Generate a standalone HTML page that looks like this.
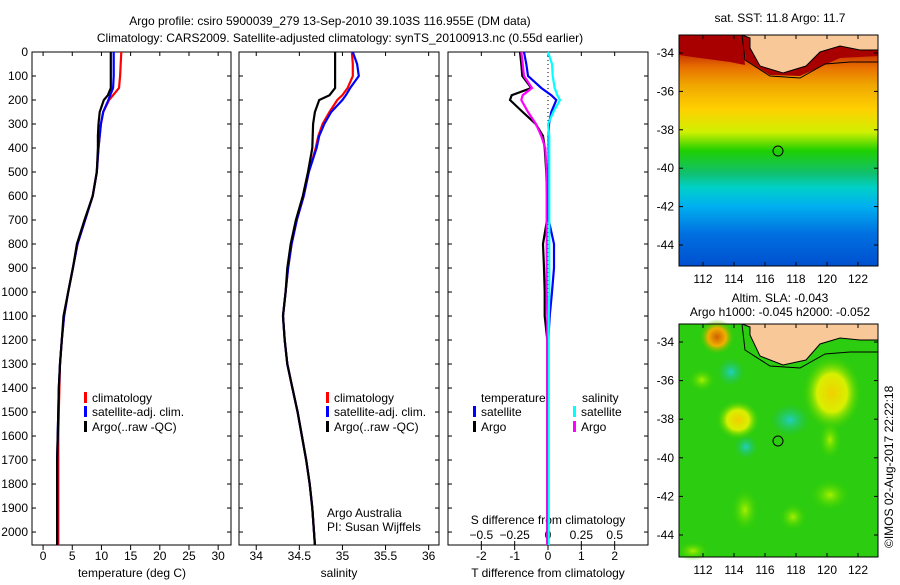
<!DOCTYPE html>
<html><head><meta charset="utf-8"><style>
body{margin:0;background:#fff;width:900px;height:580px;overflow:hidden}
svg text{font-family:"Liberation Sans",sans-serif;font-size:12px;fill:#000}
</style></head><body>
<svg id="c" width="900" height="580" xmlns="http://www.w3.org/2000/svg">
<defs>
<linearGradient id="sst" x1="0" y1="0" x2="0" y2="1">
<stop offset="0" stop-color="#a80000"/><stop offset="0.08" stop-color="#c83000"/><stop offset="0.14" stop-color="#e87000"/>
<stop offset="0.22" stop-color="#f0a800"/><stop offset="0.32" stop-color="#ffd000"/>
<stop offset="0.42" stop-color="#d0f000"/><stop offset="0.5" stop-color="#20d000"/>
<stop offset="0.6" stop-color="#10c070"/><stop offset="0.66" stop-color="#00d0c8"/>
<stop offset="0.74" stop-color="#00b0f0"/><stop offset="0.86" stop-color="#0070e0"/>
<stop offset="1" stop-color="#0050d0"/></linearGradient>
<radialGradient id="bOr"><stop offset="0" stop-color="#d06000"/><stop offset="0.5" stop-color="#f0b000"/><stop offset="1" stop-color="#30d000" stop-opacity="0"/></radialGradient>
<radialGradient id="bYe"><stop offset="0" stop-color="#f0d000"/><stop offset="0.5" stop-color="#d8f000"/><stop offset="1" stop-color="#30d000" stop-opacity="0"/></radialGradient>
<radialGradient id="bCy"><stop offset="0" stop-color="#20d0c0"/><stop offset="1" stop-color="#20c060" stop-opacity="0"/></radialGradient>
<radialGradient id="bLg"><stop offset="0" stop-color="#a8f000"/><stop offset="1" stop-color="#30d000" stop-opacity="0"/></radialGradient>
</defs>
<text x="330" y="25" text-anchor="middle">Argo profile: csiro 5900039_279 13-Sep-2010 39.103S 116.955E (DM data)</text>
<text x="340" y="42" text-anchor="middle">Climatology: CARS2009. Satellite-adjusted climatology: synTS_20100913.nc (0.55d earlier)</text>
<g>
<rect x="679" y="35" width="199" height="231" fill="url(#sst)"/>
<polygon points="679,35 742,35 746,60 770,75 800,76 840,58 878,56 878,35" fill="#a80000"/>
<polygon points="679,35 742,35 745,65 730,62 700,58 679,55" fill="#a80000"/>
<polygon points="742,35 878,35 878,50 860,50 840,46 820,52 806,66 783,73 760,66 750,48 750,38" fill="#f9c899" stroke="#000" stroke-width="1"/>
<polyline points="742,35 745,60 770,76 800,78 825,64 850,62 878,62" fill="none" stroke="#000" stroke-width="1"/>
<circle cx="778" cy="151" r="5" fill="none" stroke="#000"/>
<rect x="679" y="35" width="199" height="231" fill="none" stroke="#000"/>
</g>
<text x="780" y="22" text-anchor="middle">sat. SST: 11.8 Argo: 11.7</text>
<g>
<rect x="679" y="324" width="199" height="233" fill="#2ccc10"/>
<ellipse cx="717" cy="337" rx="18" ry="18" fill="url(#bOr)"/>
<ellipse cx="832" cy="393" rx="30" ry="38" fill="url(#bYe)"/>
<ellipse cx="738" cy="420" rx="22" ry="20" fill="url(#bYe)"/>
<ellipse cx="731" cy="372" rx="14" ry="14" fill="url(#bCy)"/>
<ellipse cx="746" cy="447" rx="12" ry="12" fill="url(#bCy)"/>
<ellipse cx="790" cy="420" rx="20" ry="16" fill="url(#bCy)"/>
<ellipse cx="830" cy="440" rx="12" ry="20" fill="url(#bLg)"/>
<ellipse cx="830" cy="495" rx="20" ry="16" fill="url(#bLg)"/>
<ellipse cx="745" cy="510" rx="14" ry="22" fill="url(#bLg)"/>
<ellipse cx="793" cy="517" rx="14" ry="14" fill="url(#bLg)"/>
<ellipse cx="693" cy="551" rx="16" ry="10" fill="url(#bLg)"/>
<ellipse cx="702" cy="380" rx="14" ry="12" fill="url(#bLg)"/>
<polygon points="742,324 878,324 878,340 860,340 840,338 820,344 806,360 783,365 760,356 750,335 750,327" fill="#f9c899" stroke="#000" stroke-width="1"/>
<polyline points="742,324 745,350 770,366 800,368 825,354 850,352 878,352" fill="none" stroke="#000" stroke-width="1"/>
<circle cx="778" cy="441" r="5" fill="none" stroke="#000"/>
<rect x="679" y="324" width="199" height="233" fill="none" stroke="#000"/>
</g>
<text x="780" y="302" text-anchor="middle">Altim. SLA: -0.043</text>
<text x="780" y="316" text-anchor="middle">Argo h1000: -0.045 h2000: -0.052</text>
<text transform="translate(893,548) rotate(-90)">©IMOS 02-Aug-2017 22:22:18</text>
</svg>
<script>
const depths=[0,50,100,150,180,200,250,300,350,400,500,600,700,800,900,1000,1100,1200,1300,1400,1500,1600,1700,1800,1900,2000,2054];
const tempClim=[13.4,13.3,13.2,13.0,12.0,11.3,10.3,9.9,9.7,9.5,9.2,8.5,7.2,5.9,5.1,4.3,3.6,3.2,2.9,2.8,2.7,2.6,2.6,2.6,2.6,2.6,2.6];
const tempSat=[12.1,12.1,12.1,12.0,11.5,11.2,10.3,9.9,9.7,9.5,9.2,8.5,7.2,5.9,5.1,4.3,3.6,3.2,2.9,2.7,2.6,2.5,2.4,2.4,2.4,2.4,2.4];
const tempArgo=[11.6,11.6,11.6,11.6,11.1,10.4,9.7,9.5,9.4,9.4,9.2,8.5,7.1,5.8,5.1,4.3,3.5,3.2,2.9,2.7,2.6,2.5,2.4,2.4,2.4,2.4,2.4];
const salClim=[35.11,35.12,35.12,35.06,35.0,34.94,34.85,34.77,34.72,34.69,34.61,34.55,34.47,34.41,34.37,34.34,34.31,34.33,34.36,34.42,34.48,34.53,34.58,34.62,34.65,34.67,34.68];
const salSat=[35.12,35.17,35.19,35.09,35.04,35.0,34.87,34.79,34.73,34.70,34.61,34.55,34.47,34.41,34.37,34.34,34.31,34.33,34.36,34.42,34.48,34.53,34.58,34.62,34.65,34.67,34.68];
const salArgo=[34.915,34.915,34.915,34.915,34.85,34.73,34.68,34.66,34.655,34.65,34.60,34.54,34.46,34.40,34.36,34.34,34.31,34.33,34.36,34.42,34.48,34.53,34.58,34.62,34.65,34.67,34.68];
const dTsat=[-0.72,-0.65,-0.6,-0.2,0.1,0.25,0.1,0.03,0.02,0.02,0.02,0.02,0.02,0.18,0.18,0.12,0.05,0.01,0.01,0.01,0.01,0.01,0.01,0.01,0.01,0.01,0.01];
const dTargo=[-0.84,-0.8,-0.77,-0.5,-1.09,-1.14,-0.76,-0.37,-0.15,-0.1,-0.05,-0.03,-0.03,-0.15,-0.12,-0.1,-0.1,-0.02,-0.02,-0.02,-0.02,-0.02,-0.02,-0.02,-0.02,-0.02,-0.02];
const dSsat=[0,0.03,0.035,0.05,0.07,0.09,0.04,0.0,0.01,0.01,0.01,0.01,0.01,0.01,0.01,0.01,0.005,0.005,0.005,0.005,0.005,0.005,0.005,0.005,0.005,0.005,0.005];
const dSargo=[-0.2,-0.19,-0.18,-0.12,-0.19,-0.2,-0.15,-0.09,-0.05,-0.02,-0.01,-0.01,-0.01,-0.01,-0.01,-0.01,-0.005,-0.005,-0.005,-0.005,-0.005,-0.005,-0.005,-0.005,-0.005,-0.005,-0.005];
const depthTicks=[0,100,200,300,400,500,600,700,800,900,1000,1100,1200,1300,1400,1500,1600,1700,1800,1900,2000];
const tempTicks=[0,5,10,15,20,25,30];
const salTicks=[34,34.5,35,35.5,36];
const dTTicks=[-2,-1,0,1,2];
const dSTicks=[-0.5,-0.25,0,0.25,0.5];
const mapLatTicks=[-34,-36,-38,-40,-42,-44];
const mapLonTicks=[112,114,116,118,120,122];

const NS='http://www.w3.org/2000/svg';
const svg=document.getElementById('c');
function mk(tag,attrs,parent){const e=document.createElementNS(NS,tag);for(const k in attrs)e.setAttribute(k,attrs[k]);(parent||svg).appendChild(e);return e;}
const Y0=52,Y1=545,DMAX=2054;
const yD=d=>Y0+d*(Y1-Y0)/DMAX;
const panels=[
 {x0:32,x1:231,d0:-1.9,d1:32.2,name:'temperature-panel'},
 {x0:239,x1:439,d0:33.8,d1:36.12,name:'salinity-panel'},
 {x0:448,x1:648,d0:-3,d1:3,name:'difference-panel'}];
function sx(p,v){return p.x0+(v-p.d0)*(p.x1-p.x0)/(p.d1-p.d0);}
panels.forEach((p,i)=>{
 const g=mk('g',{});
 
 
 const r=mk('rect',{x:p.x0,y:Y0,width:p.x1-p.x0,height:Y1-Y0,fill:'none',stroke:'#000'},g);
 
 
 depthTicks.forEach(d=>{
  const y=yD(d);
  mk('line',{x1:p.x0,x2:p.x0+4,y1:y,y2:y,stroke:'#000'},g);
  mk('line',{x1:p.x1-4,x2:p.x1,y1:y,y2:y,stroke:'#000'},g);
  if(i===0){const t=mk('text',{x:28,y:y+4,'text-anchor':'end'},g);t.textContent=d;
   
   }
 });
});
function ticksX(p,ticks,conv,yLab){
 ticks.forEach(v=>{const x=sx(p,conv(v));
  mk('line',{x1:x,x2:x,y1:Y1,y2:Y1+5,stroke:'#000'});
  mk('line',{x1:x,x2:x,y1:Y0,y2:Y0+4,stroke:'#000'});
  const t=mk('text',{x:x,y:yLab,'text-anchor':'middle'});t.textContent=v;
  
  });
}
ticksX(panels[0],tempTicks,v=>v,560);
ticksX(panels[1],salTicks,v=>v,560);
ticksX(panels[2],dTTicks,v=>v,560);
dSTicks.forEach(v=>{const x=sx(panels[2],v*4);
 mk('line',{x1:x,x2:x,y1:Y1-4,y2:Y1,stroke:'#000'});
 const t=mk('text',{x:x,y:539,'text-anchor':'middle'});t.textContent=v===0?'0':(v<0?'−'+(-v):v);
 
 });
function lab(x,y,s,name,anchor){const t=mk('text',{x:x,y:y,'text-anchor':anchor||'middle'});t.textContent=s;
 
 }
lab(132,577,'temperature (deg C)','x-axis-title-temperature');
lab(339,577,'salinity','x-axis-title-salinity');
lab(548,577,'T difference from climatology','x-axis-title-t-diff');
lab(548,524,'S difference from climatology','s-diff-axis-title');
lab(327,517,'Argo Australia','credit-argo-australia','start');
lab(327,531,'PI: Susan Wijffels','credit-pi','start');
mk('line',{x1:sx(panels[2],0),x2:sx(panels[2],0),y1:Y0,y2:Y1,stroke:'#000','stroke-dasharray':'1,3'});
function line(p,vals,col,name,scale){
 const pts=vals.map((v,k)=>sx(p,v*(scale||1)).toFixed(1)+','+yD(depths[k]).toFixed(1)).join(' ');
 const e=mk('polyline',{points:pts,fill:'none',stroke:col,'stroke-width':2.2});
 
 
}
line(panels[0],tempClim,'#f00','temp-climatology-line');
line(panels[0],tempSat,'#00f','temp-satellite-line');
line(panels[0],tempArgo,'#000','temp-argo-line');
line(panels[1],salClim,'#f00','sal-climatology-line');
line(panels[1],salSat,'#00f','sal-satellite-line');
line(panels[1],salArgo,'#000','sal-argo-line');
line(panels[2],dTargo,'#000','t-diff-argo-line');
line(panels[2],dSargo,'#f0f','s-diff-argo-line',4);
line(panels[2],dTsat,'#00f','t-diff-satellite-line');
line(panels[2],dSsat,'#0ff','s-diff-satellite-line',4);
function leg(x,y,col,s){mk('rect',{x:x,y:y-10,width:3,height:11,fill:col});
 const t=mk('text',{x:x+8,y:y});t.textContent=s;
 
 }
[84,326].forEach(x=>{leg(x,402,'#f00','climatology');leg(x,416,'#00f','satellite-adj. clim.');leg(x,431,'#000','Argo(..raw -QC)');});
lab(481,402,'temperature','legend-header-temperature','start');
lab(582,402,'salinity','legend-header-salinity','start');
leg(473,416,'#00f','satellite');leg(473,431,'#000','Argo');
leg(573,416,'#0ff','satellite');leg(573,431,'#f0f','Argo');
function mapAxes(top,bot,lat34,lat44,lonY){
 mapLatTicks.forEach(v=>{const y=lat34+(v+34)*(lat44-lat34)/(-10);
  mk('line',{x1:679,x2:683,y1:y,y2:y,stroke:'#000'});mk('line',{x1:874,x2:878,y1:y,y2:y,stroke:'#000'});
  const t=mk('text',{x:674,y:y+4,'text-anchor':'end'});t.textContent=v;
  
  });
 mapLonTicks.forEach(v=>{const x=703+(v-112)*15.5;
  mk('line',{x1:x,x2:x,y1:bot-4,y2:bot,stroke:'#000'});mk('line',{x1:x,x2:x,y1:top,y2:top+4,stroke:'#000'});
  const t=mk('text',{x:x,y:lonY,'text-anchor':'middle'});t.textContent=v;
  
  });
}
mapAxes(35,266,53,245,283);
mapAxes(324,557,342,535,574);
</script>
</body></html>
